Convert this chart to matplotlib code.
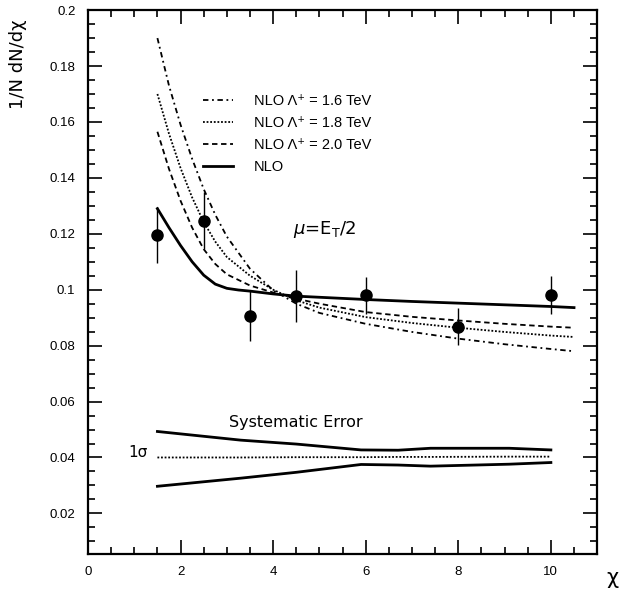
import numpy as np
import matplotlib
matplotlib.use('Agg')
import matplotlib.pyplot as plt
from matplotlib.ticker import MultipleLocator, FuncFormatter

plt.rcParams['font.family'] = ['Liberation Sans', 'DejaVu Sans']
plt.rcParams['mathtext.fontset'] = 'dejavusans'

# measured distribution
chi_pts = [1.5, 2.5, 3.5, 4.5, 6.0, 8.0, 10.0]
dndchi = [0.1195, 0.1247, 0.0906, 0.0977, 0.0980, 0.0867, 0.0981]
dndchi_err = [0.0100, 0.0103, 0.0090, 0.0092, 0.0066, 0.0066, 0.0068]

# NLO theory
chi_nlo = [1.5, 1.75, 2.0, 2.25, 2.5, 2.75, 3.0, 3.25, 3.5, 4.0, 4.5, 5.0, 6.0, 7.0, 8.0, 9.0, 10.0, 10.5]
nlo = [0.1290, 0.1222, 0.1158, 0.1100, 0.1052, 0.1020, 0.1005, 0.0999, 0.0995, 0.0985, 0.0977,
       0.0973, 0.0965, 0.0958, 0.0952, 0.0946, 0.0940, 0.0936]

# NLO with compositeness scale
chi_lam = [1.5, 1.75, 2.0, 2.25, 2.5, 2.75, 3.0, 3.5, 4.0, 4.5, 5.0, 6.0, 7.0, 8.0, 9.0, 10.0, 10.5]
nlo_16 = [0.1900, 0.1730, 0.1590, 0.1468, 0.1360, 0.1268, 0.1190, 0.1075, 0.0998, 0.0950,
          0.0917, 0.0878, 0.0849, 0.0825, 0.0805, 0.0788, 0.0780]
nlo_18 = [0.1700, 0.1558, 0.1435, 0.1330, 0.1242, 0.1172, 0.1117, 0.1050, 0.1000, 0.0962,
          0.0936, 0.0902, 0.0881, 0.0864, 0.0849, 0.0836, 0.0831]
nlo_20 = [0.1565, 0.1432, 0.1318, 0.1222, 0.1145, 0.1092, 0.1055, 0.1015, 0.0990, 0.0968,
          0.0950, 0.0920, 0.0903, 0.0890, 0.0878, 0.0868, 0.0864]

# systematic error band (drawn around 0.04)
chi_sys = [1.5, 3.3, 4.5, 5.9, 6.7, 7.4, 9.1, 10.0]
sys_up = [0.0493, 0.0462, 0.0448, 0.0427, 0.0426, 0.0433, 0.0433, 0.0427]
sys_lo = [0.0297, 0.0326, 0.0347, 0.0375, 0.0373, 0.0369, 0.0376, 0.0382]
sys_mid = [0.0400, 0.0400, 0.0401, 0.0401, 0.0402, 0.0402, 0.0403, 0.0403]

fig = plt.figure(figsize=(6.24, 5.95), dpi=100)
ax = fig.add_axes([0.141, 0.069, 0.816, 0.914])

ax.plot(chi_lam, nlo_16, color='black', lw=1.3, dashes=(3, 2, 1, 2), label='NLO Λ⁺ = 1.6 TeV')
ax.plot(chi_lam, nlo_18, color='black', lw=1.3, dashes=(1, 1), label='NLO Λ⁺ = 1.8 TeV')
ax.plot(chi_lam, nlo_20, color='black', lw=1.3, dashes=(3, 2), label='NLO Λ⁺ = 2.0 TeV')
ax.plot(chi_nlo, nlo, color='black', lw=2, label='NLO')

ax.errorbar(chi_pts, dndchi, yerr=dndchi_err, fmt='o', color='black', ms=8, elinewidth=1, capsize=0)

ax.plot(chi_sys, sys_up, color='black', lw=2)
ax.plot(chi_sys, sys_lo, color='black', lw=2)
ax.plot(chi_sys, sys_mid, color='black', lw=1.3, dashes=(1, 1))

ax.text(4.5, 0.0525, 'Systematic Error', ha='center', va='center', fontsize=11.5,
        family=['DejaVu Sans'])
ax.text(1.3, 0.0418, '1σ', ha='right', va='center', fontsize=11, family=['DejaVu Sans'])
ax.text(4.42, 0.1215, r'$\mu$=E$_\mathrm{T}$/2', ha='left', va='center', fontsize=13,
        family=['DejaVu Sans'])

ax.legend(loc='upper left', bbox_to_anchor=(0.225, 0.845), frameon=False, fontsize=10.5,
          handlelength=2.1, handletextpad=1.4, labelspacing=0.55, borderpad=0, borderaxespad=0)

ax.set_xlim(0, 11)
ax.set_ylim(0.0055, 0.2)
ax.xaxis.set_major_locator(MultipleLocator(2))
ax.xaxis.set_minor_locator(MultipleLocator(0.5))
ax.yaxis.set_major_locator(MultipleLocator(0.02))
ax.yaxis.set_minor_locator(MultipleLocator(0.005))
ax.yaxis.set_major_formatter(FuncFormatter(lambda v, p: '%g' % round(v, 3)))
ax.tick_params(which='both', direction='in', top=True, right=True, labelsize=9.5, width=1.2)
ax.tick_params(which='major', length=10, pad=9)
ax.tick_params(which='minor', length=5)
for s in ax.spines.values():
    s.set_linewidth(1.6)

fig.text(0.029, 0.967, '1/N dN/dχ', rotation=90, ha='center', va='top', fontsize=13,
         family=['DejaVu Sans'])
fig.text(0.981, 0.028, 'χ', ha='center', va='center', fontsize=15, family=['DejaVu Sans'])

fig.savefig('out.png', dpi=100)
